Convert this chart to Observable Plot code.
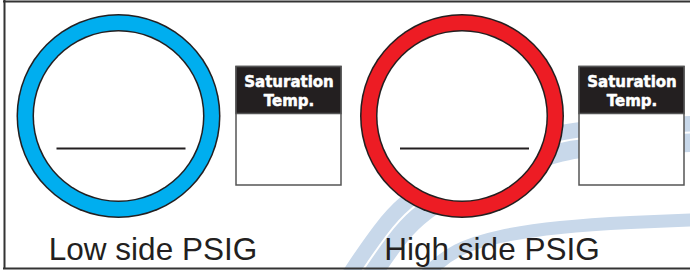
<!DOCTYPE html>
<html>
<head>
<meta charset="utf-8">
<script src="https://cdn.jsdelivr.net/npm/d3@7"></script>
<script src="https://cdn.jsdelivr.net/npm/@observablehq/plot@0.6"></script>
<style>
  html, body { margin: 0; padding: 0; background: #fff; }
  #chart svg { display: block; }
</style>
</head>
<body>
<div id="chart"></div>
<script>
// ---- data ----
const gaugeLabels = ["Low side PSIG", "High side PSIG"];
const ringColors = ["#00aeef", "#ed1c24"];
const boxTitleLines = ["Saturation", "Temp."];

// background swoosh (decorative), pixel space
const swooshOuterX = [350, 364, 388, 412, 450, 500, 565, 630, 700];
const swooshOuterY = [292, 270, 236, 210, 184, 162, 142, 136, 133];
const swooshInnerX = [412, 430, 457, 500, 560, 630, 700];
const swooshInnerY = [290, 270, 250, 236, 227, 222, 219];

// ---- layout (pixels) ----
const W = 690, H = 270;
const gaugeCX = [118, 461.5], gaugeCY = 115.5;
const boxX1 = [236, 579], boxX2 = [341, 684];
const labelCX = [152.5, 491.5];
const ink = "#231f20";

const gauges = gaugeLabels.map((label, i) => ({
  label, color: ringColors[i], cx: gaugeCX[i], cy: gaugeCY,
  bx1: boxX1[i], bx2: boxX2[i], bcx: (boxX1[i] + boxX2[i]) / 2, lx: labelCX[i]
}));
const outer = swooshOuterX.map((x, i) => ({x, y: swooshOuterY[i]}));
const inner = swooshInnerX.map((x, i) => ({x, y: swooshInnerY[i]}));
const swooshColor = "#c8d8ea";

const titleStyle = {fill: "#fff", stroke: "#fff", strokeWidth: 0.5, fontFamily: "DejaVu Sans", fontWeight: "bold", fontSize: 15, textAnchor: "middle", lineAnchor: "bottom"};

const chart = Plot.plot({
  width: W, height: H,
  margin: 0,
  x: {domain: [0, W], range: [0, W], axis: null},
  y: {domain: [0, H], range: [0, H], axis: null},
  marks: [
    // swoosh background
    Plot.line(outer, {x: "x", y: "y", curve: "natural", stroke: swooshColor, strokeWidth: 36, strokeLinecap: "butt"}),
    Plot.line(outer, {x: "x", y: "y", curve: "natural", stroke: "#fff", strokeWidth: 2, dx: -1, dy: -1.5, strokeLinecap: "butt"}),
    Plot.line(inner, {x: "x", y: "y", curve: "natural", stroke: swooshColor, strokeWidth: 13, strokeLinecap: "butt"}),
    // gauge rings
    Plot.dot(gauges, {x: "cx", y: "cy", r: 102, fill: ink, stroke: null}),
    Plot.dot(gauges, {x: "cx", y: "cy", r: 100.5, fill: "color", stroke: null}),
    Plot.dot(gauges, {x: "cx", y: "cy", r: 86, fill: ink, stroke: null}),
    Plot.dot(gauges, {x: "cx", y: "cy", r: 84.5, fill: "#fff", stroke: null}),
    // write-in line
    Plot.link(gauges, {x1: d => d.cx - 62, x2: d => d.cx + 67, y1: 148, y2: 148, stroke: ink, strokeWidth: 2}),
    // saturation temp boxes
    Plot.rect(gauges, {x1: "bx1", x2: "bx2", y1: 66.5, y2: 185, fill: "#fff", stroke: "#555", strokeWidth: 1.5}),
    Plot.rect(gauges, {x1: "bx1", x2: "bx2", y1: 66.5, y2: 113.5, fill: ink, stroke: "#555", strokeWidth: 1.5}),
    Plot.text(gauges, {x: "bcx", y: 86, text: () => boxTitleLines[0], ...titleStyle}),
    Plot.text(gauges, {x: "bcx", y: 105, text: () => boxTitleLines[1], ...titleStyle}),
    // labels
    Plot.text(gauges, {x: "lx", y: 259, text: "label", fill: ink, fontFamily: "Liberation Sans", fontSize: 31.5, textAnchor: "middle", lineAnchor: "bottom"}),
    // frame (top, left, bottom)
    Plot.ruleY([1], {x1: 3, x2: W, stroke: "#333", strokeWidth: 2}),
    Plot.ruleY([268], {x1: 3, x2: W, stroke: "#333", strokeWidth: 2}),
    Plot.ruleX([4], {y1: 0, y2: 269, stroke: "#333", strokeWidth: 2})
  ]
});
document.getElementById("chart").appendChild(chart);
</script>
</body>
</html>
